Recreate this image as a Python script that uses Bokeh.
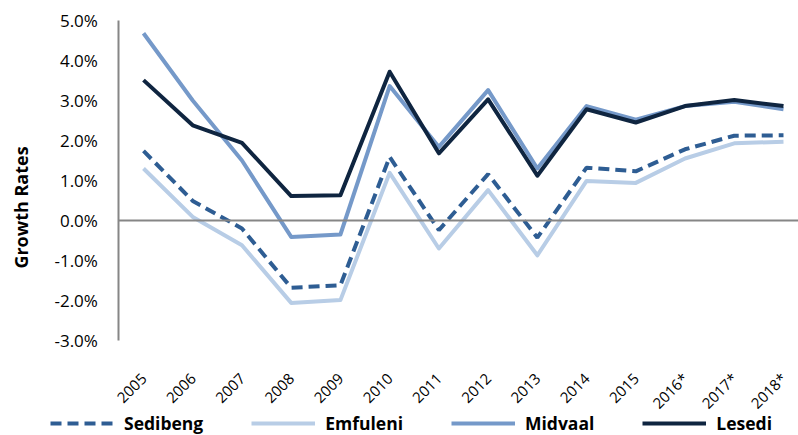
import math
from bokeh.plotting import figure
from bokeh.models import (FixedTicker, PrintfTickFormatter, Legend, LegendItem,
                          Range1d, Label)
from bokeh.embed import file_html
from bokeh.resources import INLINE

years = ["2005", "2006", "2007", "2008", "2009", "2010", "2011", "2012", "2013",
         "2014", "2015", "2016*", "2017*", "2018*"]
sedibeng = [1.74, 0.49, -0.20, -1.68, -1.62, 1.59, -0.24, 1.16, -0.43, 1.32, 1.23, 1.78, 2.12, 2.13]
emfuleni = [1.30, 0.09, -0.62, -2.06, -1.99, 1.19, -0.70, 0.76, -0.87, 0.99, 0.94, 1.55, 1.93, 1.97]
midvaal = [4.68, 3.00, 1.50, -0.41, -0.35, 3.36, 1.84, 3.26, 1.30, 2.86, 2.52, 2.86, 2.97, 2.78]
lesedi = [3.51, 2.38, 1.94, 0.61, 0.63, 3.72, 1.68, 3.03, 1.12, 2.78, 2.45, 2.86, 3.01, 2.86]
y_ticks = [-3, -2, -1, 0, 1, 2, 3, 4, 5]
y_min, y_max = -3, 5

FONT = "Open Sans"
xs = list(range(len(years)))

W, H = 798, 435
STEP = 49.23          # px per category
PX_PER_UNIT = 40.0    # px per 1 percentage point
x_start = -143 / STEP
x_end = x_start + W / STEP
y_top = 220 / PX_PER_UNIT
y_bottom = y_top - H / PX_PER_UNIT

p = figure(width=W, height=H,
           min_border_left=0, min_border_right=0, min_border_top=0, min_border_bottom=0,
           x_range=Range1d(x_start, x_end), y_range=Range1d(y_bottom, y_top),
           output_backend="svg", toolbar_location=None)
p.outline_line_color = None
p.xgrid.visible = False
p.ygrid.visible = False
p.background_fill_color = "white"
p.border_fill_color = "white"

# value axis
p.yaxis.fixed_location = -0.5
p.yaxis.bounds = (y_min, y_max)
p.yaxis.ticker = FixedTicker(ticks=y_ticks)
p.yaxis.formatter = PrintfTickFormatter(format="%.1f%%")
p.yaxis.axis_line_color = "#868686"
p.yaxis.axis_line_width = 2
p.yaxis.major_tick_line_color = None
p.yaxis.minor_tick_line_color = None
p.yaxis.major_tick_out = 0
p.yaxis.major_tick_in = 0
p.yaxis.major_label_standoff = 21
p.yaxis.major_label_text_font = FONT
p.yaxis.major_label_text_font_size = "17px"
p.yaxis.major_label_text_color = "#000000"

# category axis crossing at zero, labels low
p.xaxis.fixed_location = 0
p.xaxis.bounds = (-0.5, x_end)
p.xaxis.ticker = FixedTicker(ticks=xs)
p.xaxis.major_label_overrides = {i: y for i, y in enumerate(years)}
p.xaxis.axis_line_color = "#868686"
p.xaxis.axis_line_width = 2
p.xaxis.major_tick_line_color = None
p.xaxis.minor_tick_line_color = None
p.xaxis.major_tick_out = 0
p.xaxis.major_tick_in = 0
p.xaxis.major_label_standoff = 155
p.xaxis.major_label_orientation = math.pi / 4
p.xaxis.major_label_text_font = FONT
p.xaxis.major_label_text_font_size = "15px"
p.xaxis.major_label_text_color = "#000000"

r1 = p.line(xs, sedibeng, line_color="#2E5D93", line_width=4, line_dash="11 6")
r2 = p.line(xs, emfuleni, line_color="#B8CDE6", line_width=4, line_join="round")
r3 = p.line(xs, midvaal, line_color="#7599C9", line_width=4, line_join="round")
r4 = p.line(xs, lesedi, line_color="#0F2540", line_width=4, line_join="round")

legend = Legend(items=[LegendItem(label="Sedibeng", renderers=[r1]),
                       LegendItem(label="Emfuleni", renderers=[r2]),
                       LegendItem(label="Midvaal", renderers=[r3]),
                       LegendItem(label="Lesedi", renderers=[r4])],
                orientation="horizontal", location=(50, 0),
                glyph_width=64, glyph_height=18, label_height=18, label_standoff=10,
                spacing=48, padding=0, margin=0,
                border_line_color=None, background_fill_alpha=0,
                label_text_font=FONT, label_text_font_style="bold",
                label_text_font_size="17.5px", label_text_color="#000000")
p.add_layout(legend, "center")

# value axis title
p.add_layout(Label(x=x_start + 20 / STEP, y=(220 - 207) / PX_PER_UNIT, text="Growth Rates",
                   angle=math.pi / 2, text_align="center", text_baseline="middle",
                   text_font=FONT, text_font_style="bold", text_font_size="18px",
                   text_color="#000000"))

open("out.html", "w").write(file_html(p, INLINE))
